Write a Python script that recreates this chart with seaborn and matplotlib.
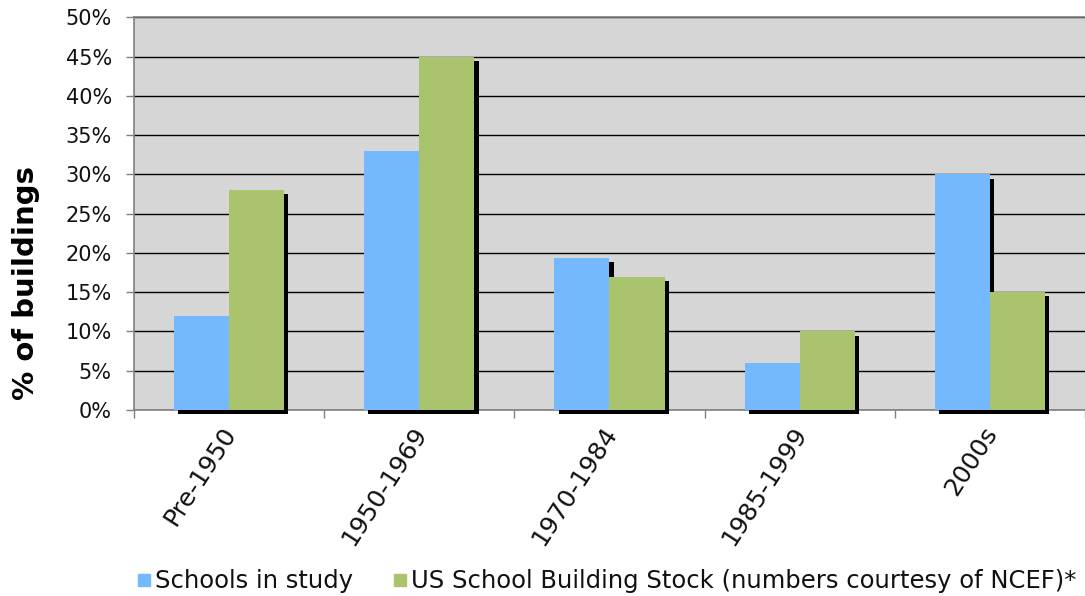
import matplotlib
matplotlib.use("Agg")
import matplotlib.pyplot as plt
import matplotlib.patheffects as pe
import matplotlib.transforms as mtransforms
from matplotlib.lines import Line2D
from matplotlib.ticker import PercentFormatter, FixedLocator
import seaborn as sns
import pandas as pd

categories = ["Pre-1950", "1950-1969", "1970-1984", "1985-1999", "2000s"]
series_names = ["Schools in study",
                "US School Building Stock (numbers courtesy of NCEF)*"]
schools_in_study = [0.12, 0.33, 0.194, 0.06, 0.30]
us_stock = [0.28, 0.45, 0.17, 0.10, 0.15]
colors = ["#74B9FE", "#AAC46D"]

df = pd.DataFrame({
    "period": categories * 2,
    "share": schools_in_study + us_stock,
    "series": [series_names[0]] * len(categories) + [series_names[1]] * len(categories),
})

sns.set_theme(style="white")
plt.rcParams["font.family"] = ["DejaVu Sans"]

fig = plt.figure(figsize=(10.85, 5.96), dpi=100)
ax = fig.add_axes([0.1235, 0.312, 0.8765, 0.659])
ax.set_facecolor("#D6D6D6")

sns.barplot(data=df, x="period", y="share", hue="series", order=categories,
            hue_order=series_names, palette=colors, width=0.58, saturation=1,
            linewidth=0, legend=False, ax=ax, zorder=3)

for p in ax.patches:
    p.set_path_effects([pe.SimplePatchShadow(offset=(3, -3), shadow_rgbFace="black", alpha=1.0),
                        pe.Normal()])
    p.set_clip_on(False)

ax.set_ylim(0, 0.5)
ax.set_xlim(-0.5, len(categories) - 0.5)
ax.yaxis.set_major_locator(FixedLocator([i * 0.05 for i in range(11)]))
ax.yaxis.set_major_formatter(PercentFormatter(1.0, decimals=0))
ax.yaxis.grid(True, color="black", linewidth=1.0, zorder=0)
ax.set_axisbelow(True)

ax.set_xticks(range(len(categories)))
ax.set_xticks([i - 0.5 for i in range(len(categories) + 1)], minor=True)
ax.tick_params(axis="x", which="major", length=0, pad=9)
ax.tick_params(axis="x", which="minor", length=6, width=1, color="#808080", direction="out")
ax.tick_params(axis="y", length=6, width=1, color="#808080", direction="out", pad=10,
               labelsize=15, labelcolor="#111111")
ax.tick_params(axis="both", bottom=True, left=True, which="both")
ax.tick_params(axis="x", which="major", bottom=False)
ax.set_xticklabels(categories, rotation=57, ha="right", rotation_mode="anchor",
                   fontsize=18, color="#111111")
offset = mtransforms.ScaledTranslation(-8 / 100, 0, fig.dpi_scale_trans)
for lbl in ax.get_xticklabels():
    lbl.set_transform(lbl.get_transform() + offset)

for s in ["left", "bottom", "top"]:
    ax.spines[s].set_color("#808080")
    ax.spines[s].set_linewidth(1.2)
ax.spines["right"].set_visible(False)

ax.set_xlabel("")
ax.set_ylabel("% of buildings", fontsize=21, fontweight="bold", color="black")
ax.yaxis.set_label_coords(-0.0988, 0.324)

handles = [Line2D([], [], marker="s", linestyle="", markersize=9, color=c) for c in colors]
fig.legend(handles, series_names, loc="center", bbox_to_anchor=(0.559, 0.025), ncol=2,
           frameon=False, fontsize=17.5, handletextpad=0.15, columnspacing=1.6,
           handlelength=0.6, labelcolor="#111111")

fig.savefig("out.png", dpi=100)
